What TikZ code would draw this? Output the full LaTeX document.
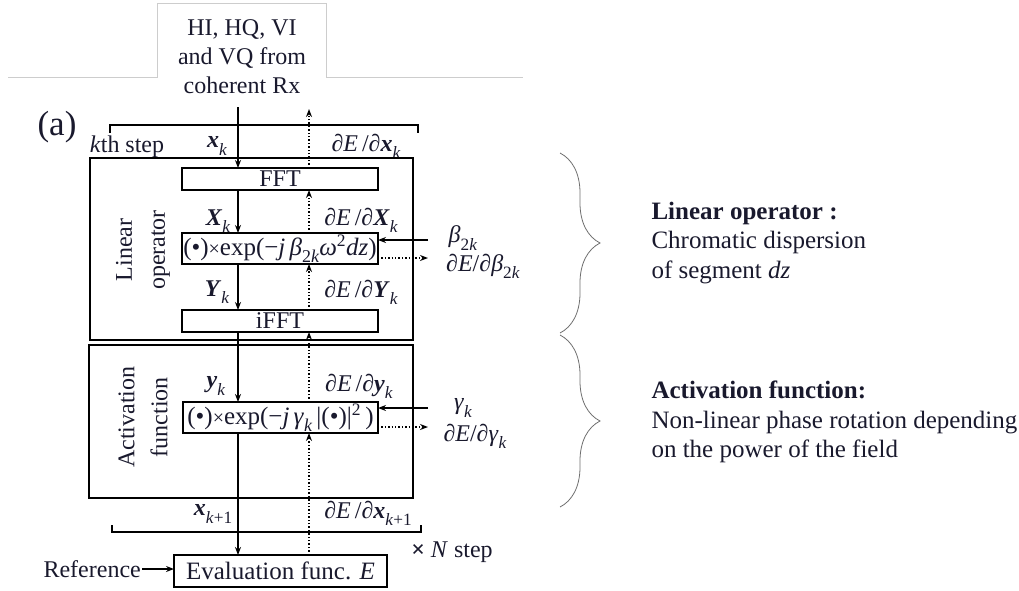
\documentclass[tikz,border=0pt]{standalone}
\usepackage{fontspec}
\setmainfont{Liberation Serif}
\usetikzlibrary{arrows.meta,decorations.pathreplacing}
\definecolor{ink}{RGB}{25,25,45}
\definecolor{tabgray}{RGB}{205,205,205}
\definecolor{bracegray}{RGB}{110,110,110}
\newcommand\lo[1]{\raisebox{-0.3em}{\scalebox{0.72}{#1}}}
\newcommand\bi[1]{\textbf{\textit{#1}}}
\newcommand\pd{\textit{∂}}
\begin{document}
\begin{tikzpicture}[x=1pt,y=-1pt,
  every node/.style={text=ink, font=\fontsize{24}{29}\selectfont},
  >={Stealth[length=8pt,width=6pt]},
  box/.style={draw, line width=1.2pt, inner sep=0pt, outer sep=0pt, minimum width=196, minimum height=22},
  frame/.style={draw, line width=1.2pt, inner sep=0pt, outer sep=0pt},
  sig/.style={->, line width=1.4pt},
  grad/.style={->, line width=1.4pt, dotted},
  bracket/.style={line width=1.3pt},
  lab/.style={inner sep=1pt}]
\useasboundingbox (0,0) rectangle (1019,590);

% input tab
\draw[tabgray, line width=0.9pt] (8,77) -- (157,77) -- (157,3) -- (326,3) -- (326,77) -- (523,77);
\node[align=center] (src) at (242,57) {HI, HQ, VI\\and VQ from\\coherent Rx};
\node (panel) at (57,127) {\fontsize{35}{35}\selectfont (a)};

% top bracket
\coordinate (tbl) at (110,133); \coordinate (tbr) at (418,133);
\draw[bracket] (tbl) -- ++(0,-8) -| (tbr);
\node[lab] (kth) at (127,147) {\textit{k}th step};
\node[lab] (xk) at (217,146) {\bi{x}\lo{\textit{k}}};
\node[lab] (dxk) at (366,146) {\pd\textit{E}\,/\pd\bi{x}\lo{\textit{k}}};

% outer frames
\node[frame, minimum width=323, minimum height=182] (lin) at (251.5,249) {};
\node[frame, minimum width=324, minimum height=153] (act) at (251,421.5) {};
\node[rotate=90, align=center, font=\fontsize{24}{33}\selectfont] (linlab) at (143,250) {Linear\\operator};
\node[rotate=90, align=center, font=\fontsize{24}{33}\selectfont] (actlab) at (143,417) {Activation\\function};

% blocks
\node[box] (fft) at (280,179) {FFT};
\node[box, minimum height=31, font=\fontsize{25}{29}\selectfont] (exp1) at (280,248.5) {(•)\scalebox{0.8}{×}exp(−\textit{j\,β}\lo{2\textit{k}}\textit{ω}\textsuperscript{2}\textit{dz})};
\node[box] (ifft) at (280,321) {iFFT};
\node[box, minimum width=195, minimum height=31, font=\fontsize{25}{29}\selectfont] (exp2) at (280.5,417.5) {(•)\scalebox{0.8}{×}exp(−\textit{j\,γ}\lo{\textit{k}}\,|(•)|\textsuperscript{2}\,)};
\node[box, minimum width=213, minimum height=32, font=\fontsize{25}{29}\selectfont] (eval) at (280.5,571) {Evaluation func. \textit{E}};

% columns
\coordinate (sTop) at (238,107);
\coordinate (dTop) at (309,109);

\draw[sig] (sTop) -- (sTop |- fft.north);
\draw[grad] (fft.north -| dTop) -- (dTop);
\draw[sig] (fft.south -| sTop) -- (exp1.north -| sTop);
\draw[grad] (exp1.north -| dTop) -- (fft.south -| dTop);
\draw[sig] (exp1.south -| sTop) -- (ifft.north -| sTop);
\draw[grad] (ifft.north -| dTop) -- (exp1.south -| dTop);
\draw[sig] (ifft.south -| sTop) -- (exp2.north -| sTop);
\draw[grad] (exp2.north -| dTop) -- (ifft.south -| dTop);
\draw[sig] (exp2.south -| sTop) -- (eval.north -| sTop);
\draw[grad] (eval.north -| dTop) -- (exp2.south -| dTop);

% labels along columns
\node[lab] (Xk) at (218,221) {\bi{X}\lo{\textit{k}}};
\node[lab] (dXk) at (361,220) {\pd\textit{E}\,/\pd\bi{X}\lo{\textit{k}}};
\node[lab] (Yk) at (217,292) {\bi{Y}\lo{\textit{k}}};
\node[lab] (dYk) at (361,292) {\pd\textit{E}\,/\pd\bi{Y}\lo{\textit{k}}};
\node[lab] (yk) at (216,386) {\bi{y}\lo{\textit{k}}};
\node[lab] (dyk) at (359,386) {\pd\textit{E}\,/\pd\bi{y}\lo{\textit{k}}};
\node[lab] (xk1) at (213,514) {\bi{x}\lo{\textit{k}+1}};
\node[lab] (dxk1) at (368,513) {\pd\textit{E}\,/\pd\bi{x}\lo{\textit{k}+1}};

% side parameters
\coordinate (b2in) at (428,240);
\coordinate (b2out) at (428,258);
\draw[sig] (b2in) -- (b2in -| exp1.east);
\draw[grad] (b2out -| exp1.east) -- (b2out);
\node[lab] (beta) at (463,238) {\textit{β}\lo{2\textit{k}}};
\node[lab] (dbeta) at (483,266) {\pd\textit{E}/\pd\textit{β}\lo{2\textit{k}}};

\coordinate (gin) at (428,408);
\coordinate (gout) at (428,427);
\draw[sig] (gin) -- (gin -| exp2.east);
\draw[grad] (gout -| exp2.east) -- (gout);
\node[lab] (gam) at (463,408) {\textit{γ}\lo{\textit{k}}};
\node[lab] (dgam) at (475,436) {\pd\textit{E}/\pd\textit{γ}\lo{\textit{k}}};

% bottom bracket
\coordinate (bbl) at (112,525); \coordinate (bbr) at (421,525);
\draw[bracket] (bbl) -- ++(0,7) -| (bbr);
\node[lab] (nstep) at (452,552) {\textbf{×} \textit{N} step};

% reference
\node[lab, anchor=east] (ref) at (142,569) {Reference};
\draw[sig] (ref.east) -- (ref.east -| eval.west);

% braces
\draw[bracegray, line width=0.8pt, decorate, decoration={brace, amplitude=40pt}] (560,153) -- (560,333);
\draw[bracegray, line width=0.8pt, decorate, decoration={brace, amplitude=40pt}] (560,335) -- (560,507);

\node[anchor=west, align=left, font=\fontsize{25}{29.5}\selectfont] (t1) at (648,243) {\textbf{Linear operator :}\\Chromatic dispersion\\of segment \textit{dz}};
\node[anchor=west, align=left, font=\fontsize{25}{29.5}\selectfont] (t2) at (648,422) {\textbf{Activation function:}\\Non-linear phase rotation depending\\on the power of the field};
\end{tikzpicture}
\end{document}
